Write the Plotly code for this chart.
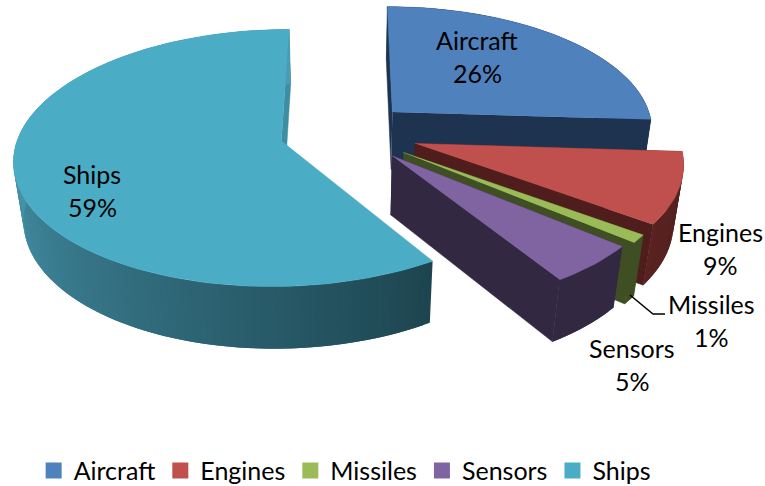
import numpy as np
import plotly.graph_objects as go

categories = ["Aircraft", "Engines", "Missiles", "Sensors", "Ships"]
values = [26, 9, 1, 5, 59]
explosion = [0.24, 0.27, 0.265, 0.25, 0.26]
top_colors = ["#4F81BD", "#C0504D", "#9BBB59", "#8064A2", "#4BACC6"]
wall_near = ["#1D3350", "#4F1E1C", "#3F4F23", "#332841", "#1D4550"]
wall_far = ["#1D3350", "#5A2322", "#3F4F23", "#332841", "#4A9CB4"]
draw_order = ["Aircraft", "Ships", "Engines", "Missiles", "Sensors"]

CX, CY = 347.5, 132.0      # projected centre of the pie
A, B = 262.0, 124.0        # plan scale
H = 60.0                   # thickness
K, M = 0.13, 0.03          # perspective


def project(X, Y, z):
    X, Y = np.asarray(X, float), np.asarray(Y, float)
    w = 1 - K * Y + M * z
    return CX + A * X / w, CY + (B * Y + H * z) / w


def hex_rgb(c):
    return np.array([int(c[i:i + 2], 16) for i in (1, 3, 5)], float)


def mix(c1, c2, t):
    r = hex_rgb(c1) * (1 - t) + hex_rgb(c2) * t
    return "rgb(%d,%d,%d)" % tuple(r.round())


def poly(fig, xs, ys, color, width=0.5):
    fig.add_trace(go.Scatter(x=list(xs), y=list(ys), mode="lines", fill="toself",
                             fillcolor=color, line=dict(color=color, width=width),
                             hoverinfo="skip", showlegend=False))


fig = go.Figure()

total = sum(values)
edges = np.concatenate([[0], np.cumsum(values)]) / total * 2 * np.pi
spans = {c: (edges[i], edges[i + 1], i) for i, c in enumerate(categories)}

for name in draw_order:
    a0, a1, i = spans[name]
    mid = (a0 + a1) / 2
    e = explosion[i]
    ox, oy = e * np.sin(mid), -e * np.cos(mid)
    th = np.linspace(a0, a1, max(6, int(np.degrees(a1 - a0) / 1.5)))
    ex, ey = ox + np.sin(th), oy - np.cos(th)

    # cut faces
    for t in (a0, a1):
        px = [ox, ox + np.sin(t)]
        py = [oy, oy - np.cos(t)]
        xt, yt = project(px, py, 0)
        xb, yb = project(px, py, 1)
        if name != "Ships":
            poly(fig, [*xt, *xb[::-1]], [*yt, *yb[::-1]], wall_near[i])
        elif t == a1:
            poly(fig, [*xt, *xb[::-1]], [*yt, *yb[::-1]],
                 mix(top_colors[i], wall_near[i], 0.3))

    # outer wall, in overlapping strips so the shading can change along it
    xt, yt = project(ex, ey, 0)
    xb, yb = project(ex, ey, 1)
    n = len(th)
    for j in range(n - 1):
        f = (th[j] - a0) / (a1 - a0)
        f = min(1.0, f / 0.62) if name == "Ships" else f
        stop = min(j + 3, n)
        poly(fig, [*xt[j:stop], *xb[j:stop][::-1]], [*yt[j:stop], *yb[j:stop][::-1]],
             mix(wall_near[i], wall_far[i], f), width=0)

    # top face
    ax, ay = project(ox, oy, 0)
    poly(fig, [float(ax), *xt], [float(ay), *yt], top_colors[i])

# legend entries
for c, col in zip(categories, top_colors):
    fig.add_trace(go.Scatter(x=[None], y=[None], mode="markers", name=c,
                             marker=dict(symbol="square", size=16, color=col)))

# data labels: name and share on two lines
label_pos = {"Aircraft": (477, 40), "Engines": (720, 232), "Missiles": (711, 304),
             "Sensors": (632, 348), "Ships": (92, 174)}
FONT = "Lato, Carlito, Calibri, sans-serif"
for c, v in zip(categories, values):
    lx, ly = label_pos[c]
    for txt, yy in ((c, ly), (f"{v}%", ly + 33)):
        fig.add_annotation(x=lx, y=yy, text=txt, showarrow=False,
                           xanchor="center", yanchor="middle",
                           font=dict(family=FONT, size=25, color="black"))

fig.add_shape(type="path", path="M 630 295 L 653 314 L 665 314",
              line=dict(color="black", width=1.5))

fig.update_layout(
    width=765, height=486, margin=dict(l=0, r=0, t=0, b=0, autoexpand=False),
    paper_bgcolor="white", plot_bgcolor="white",
    xaxis=dict(range=[0, 765], visible=False, fixedrange=True),
    yaxis=dict(range=[486, 0], visible=False, fixedrange=True),
    legend=dict(orientation="h", x=0.044, y=-0.016, xanchor="left", yanchor="bottom",
                font=dict(family=FONT, size=25, color="black"),
                itemwidth=30, traceorder="normal", tracegroupgap=0,
                bgcolor="rgba(0,0,0,0)"),
    font=dict(family=FONT),
)
fig.write_html("out.html", config={"displayModeBar": False},
               post_script="document.body.style.margin='0';document.body.style.overflow='hidden';")
